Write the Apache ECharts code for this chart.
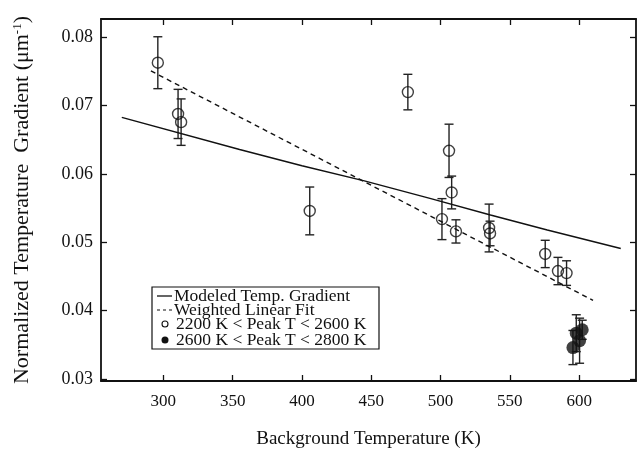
<!DOCTYPE html>
<html>
<head>
<meta charset="utf-8">
<title>Normalized Temperature Gradient</title>
<script src="https://cdn.jsdelivr.net/npm/echarts@6/dist/echarts.min.js"></script>
<style>
  html, body { margin: 0; padding: 0; background: #fff; }
  #chart { width: 637px; height: 456px; }
</style>
</head>
<body>
<div id="chart"></div>
<script>
// 2200 K < Peak T < 2600 K (open circles)
var openX = [296, 310.6, 312.8, 405.6, 476.4, 501, 506.1, 508, 511.1, 535, 535.7, 575.5, 584.7, 590.9]
var openY = [0.0763, 0.0688, 0.0676, 0.0546, 0.0720, 0.0534, 0.0634, 0.0573, 0.0516, 0.0521, 0.0513, 0.0483, 0.0458, 0.0455]
var openErr = [0.0038, 0.0036, 0.0034, 0.0035, 0.0026, 0.0030, 0.0039, 0.0024, 0.0017, 0.0035, 0.0018, 0.0020, 0.0020, 0.0018]

// 2600 K < Peak T < 2800 K (filled circles)
var filledX = [595.5, 597.9, 600.3, 602.2]
var filledY = [0.0346, 0.0367, 0.0356, 0.0372]
var filledErr = [0.0025, 0.0027, 0.0033, 0.0014]

// modeled temperature gradient (solid line)
var modelX = [270, 355, 400, 445, 493, 536, 577, 630]
var modelY = [0.0683, 0.0636, 0.0612, 0.0590, 0.0564, 0.0540, 0.0518, 0.0491]

// weighted linear fit (dashed line)
var fitX = [291, 610]
var fitY = [0.0751, 0.0415]

// tick values
var xTicks = [300, 350, 400, 450, 500, 550, 600]
var yTicks = [0.03, 0.04, 0.05, 0.06, 0.07, 0.08]

var FONT = '"Liberation Serif", "DejaVu Serif", serif'
var INK = '#111'
var LEGEND_FONT = '17.5px ' + FONT

function pairs(xs, ys) {
  return xs.map(function (x, i) { return [x, ys[i]] })
}

function errData(xs, ys, errs) {
  return xs.map(function (x, i) { return [x, ys[i] - errs[i], ys[i] + errs[i]] })
}

function merge(a, b) {
  for (var k in b) a[k] = b[k]
  return a
}

// 误差棒
function renderErrorBar(params, api) {
  var lo = api.coord([api.value(0), api.value(1)])
  var hi = api.coord([api.value(0), api.value(2)])
  var half = 4.5
  var style = { stroke: '#222', lineWidth: 1.4 }
  return {
    type: 'group',
    children: [
      { type: 'line', shape: { x1: lo[0], y1: lo[1], x2: hi[0], y2: hi[1] }, style: style },
      { type: 'line', shape: { x1: lo[0] - half, y1: lo[1], x2: lo[0] + half, y2: lo[1] }, style: style },
      { type: 'line', shape: { x1: hi[0] - half, y1: hi[1], x2: hi[0] + half, y2: hi[1] }, style: style }
    ]
  }
}

var axisLine = { show: true, lineStyle: { color: INK, width: 1.8 } }
var tickStyle = { lineStyle: { color: INK, width: 1.3 } }

var option = {
  animation: false,
  backgroundColor: '#fff',
  grid: { left: 101, right: 1, top: 19, bottom: 75 },
  xAxis: [{
    type: 'value',
    min: 255,
    max: 641,
    position: 'bottom',
    name: 'Background Temperature (K)',
    nameLocation: 'middle',
    nameGap: 49,
    nameTextStyle: { fontFamily: FONT, fontSize: 19, color: INK },
    axisLine: axisLine,
    axisTick: merge({ inside: true, length: 6, customValues: xTicks }, tickStyle),
    axisLabel: {
      customValues: xTicks,
      fontFamily: FONT, fontSize: 17, color: INK, margin: 12
    },
    splitLine: { show: false }
  }, {
    type: 'value',
    min: 255,
    max: 641,
    position: 'top',
    axisLine: axisLine,
    axisTick: merge({ inside: true, length: 6, customValues: xTicks }, tickStyle),
    axisLabel: { show: false },
    splitLine: { show: false }
  }],
  yAxis: [{
    type: 'value',
    min: 0.0297,
    max: 0.0827,
    position: 'left',
    name: '{t|Normalized Temperature  Gradient (μm}{s|-1}{t|)}',
    nameLocation: 'middle',
    nameRotate: 90,
    nameGap: 68,
    nameTextStyle: {
      rich: {
        t: { fontFamily: FONT, fontSize: 22, color: INK },
        s: { fontFamily: FONT, fontSize: 13, color: INK, verticalAlign: 'top', padding: [0, 0, 8, 0] }
      }
    },
    axisLine: axisLine,
    axisTick: merge({ inside: true, length: 6, customValues: yTicks }, tickStyle),
    axisLabel: {
      customValues: yTicks,
      formatter: function (v) { return v.toFixed(2) },
      fontFamily: FONT, fontSize: 18, color: INK, margin: 8
    },
    splitLine: { show: false }
  }, {
    type: 'value',
    min: 0.0297,
    max: 0.0827,
    position: 'right',
    axisLine: axisLine,
    axisTick: merge({ inside: true, length: 6, customValues: yTicks }, tickStyle),
    axisLabel: { show: false },
    splitLine: { show: false }
  }],
  series: [{
    name: 'Modeled Temp. Gradient',
    type: 'line',
    data: pairs(modelX, modelY),
    showSymbol: false,
    lineStyle: { color: INK, width: 1.5 }
  }, {
    name: 'Weighted Linear Fit',
    type: 'line',
    data: pairs(fitX, fitY),
    showSymbol: false,
    lineStyle: { color: INK, width: 1.4, type: [5, 4] }
  }, {
    type: 'custom',
    renderItem: renderErrorBar,
    data: errData(openX, openY, openErr),
    z: 3
  }, {
    type: 'custom',
    renderItem: renderErrorBar,
    data: errData(filledX, filledY, filledErr),
    z: 3
  }, {
    name: '2200 K < Peak T < 2600 K',
    type: 'scatter',
    data: pairs(openX, openY),
    symbol: 'circle',
    symbolSize: 11,
    itemStyle: { color: 'rgba(0,0,0,0)', borderColor: INK, borderWidth: 1.4 },
    z: 4
  }, {
    name: '2600 K < Peak T < 2800 K',
    type: 'scatter',
    data: pairs(filledX, filledY),
    symbol: 'circle',
    symbolSize: 13,
    itemStyle: { color: INK },
    z: 4
  }],
  // 图例（手绘框）
  graphic: [
    { type: 'rect', shape: { x: 152, y: 287, width: 227, height: 62 }, style: { fill: '#fff', stroke: INK, lineWidth: 1.2 }, z: 10 },
    { type: 'line', shape: { x1: 157, y1: 296, x2: 172, y2: 296 }, style: { stroke: INK, lineWidth: 1.3 }, z: 11 },
    { type: 'text', x: 174, y: 296, style: { text: 'Modeled Temp. Gradient', font: LEGEND_FONT, fill: INK, verticalAlign: 'middle' }, z: 11 },
    { type: 'line', shape: { x1: 157, y1: 310, x2: 172, y2: 310 }, style: { stroke: INK, lineWidth: 1.2, lineDash: [3, 3] }, z: 11 },
    { type: 'text', x: 174, y: 310, style: { text: 'Weighted Linear Fit', font: LEGEND_FONT, fill: INK, verticalAlign: 'middle' }, z: 11 },
    { type: 'circle', shape: { cx: 165, cy: 324, r: 3 }, style: { fill: '#fff', stroke: INK, lineWidth: 1.1 }, z: 11 },
    { type: 'text', x: 176, y: 324, style: { text: '2200 K < Peak T < 2600 K', font: LEGEND_FONT, fill: INK, verticalAlign: 'middle' }, z: 11 },
    { type: 'circle', shape: { cx: 165, cy: 340, r: 3.5 }, style: { fill: INK }, z: 11 },
    { type: 'text', x: 176, y: 340, style: { text: '2600 K < Peak T < 2800 K', font: LEGEND_FONT, fill: INK, verticalAlign: 'middle' }, z: 11 }
  ]
}

var myChart = echarts.init(document.getElementById('chart'))
myChart.setOption(option)
</script>
</body>
</html>
